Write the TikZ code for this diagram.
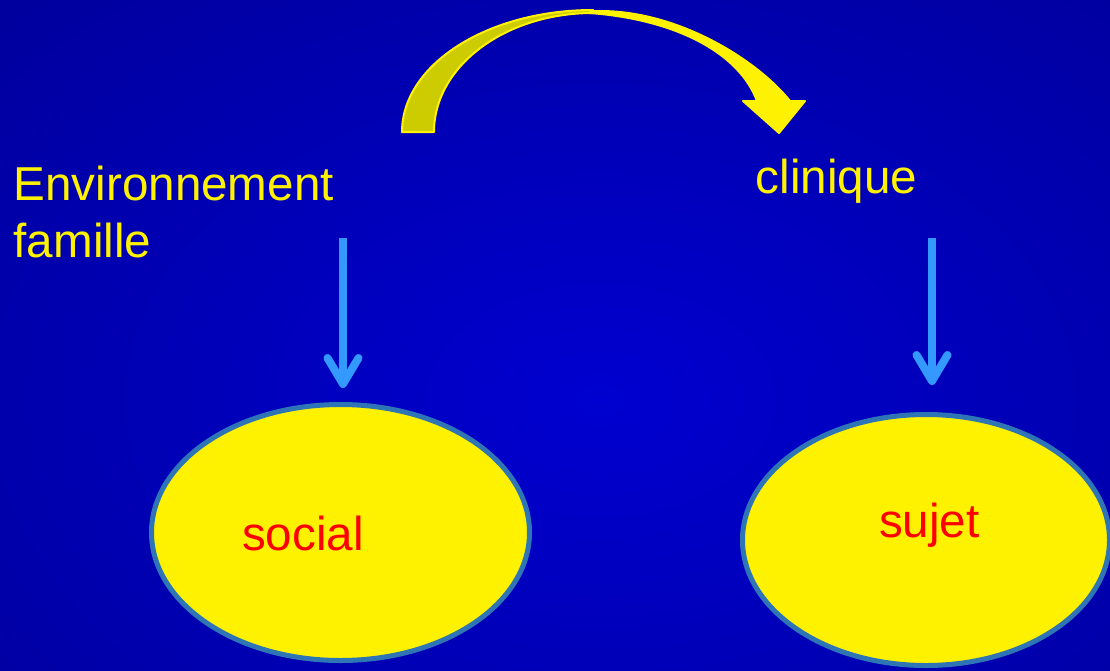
\documentclass[tikz,border=0pt]{standalone}
\usepackage{fontspec}
\setmainfont{Liberation Sans}
\usetikzlibrary{positioning,shapes.geometric,arrows.meta}
\definecolor{bgdark}{RGB}{0,0,118}
\definecolor{bglight}{RGB}{0,0,208}
\definecolor{rim}{RGB}{46,117,182}
\definecolor{shaft}{RGB}{51,153,255}
\definecolor{backyellow}{RGB}{204,204,0}
\tikzset{
  blob/.style={ellipse, fill=yellow, draw=rim, line width=5pt},
  word/.style={font=\fontsize{47.6}{57}\selectfont, inner sep=0pt, anchor=base west},
  connect/.style={-{Straight Barb[round, length=26pt, width=31pt]}, draw=shaft, line width=8pt},
  band/.style={draw=yellow, line width=2pt, line join=round}
}

\begin{document}
\begin{tikzpicture}[x=1pt, y=1pt]
		\useasboundingbox (0,0) rectangle (1110,-670);
		\begin{scope}
		  \clip (0,0) rectangle (1110,-670);
		  \shade[inner color=bglight, outer color=bgdark] (-900,600) rectangle (2100,-1400);
		\end{scope}
		% curved arrow on top
		\path[fill=backyellow, band] (402,-132) arc[start angle=180, end angle=90, x radius=191, y radius=122]
		  -- (593,-13) arc[start angle=90, end angle=180, x radius=159, y radius=119] -- cycle;
		\path[fill=yellow, band] (590,-11) -- (600,-11) .. controls (680,-11) and (758,-61) .. (790,-101)
		  -- (805,-101) -- (779,-133) -- (743,-101) -- (757,-101)
		  .. controls (740,-55) and (680,-20) .. (590,-13) -- cycle;
		% texts
		\node[word, text=yellow, align=left] (env) at (13.5,-257) {Environnement\\famille};
		\node[word, text=yellow] (clin) at (755.5,-193) {clinique};
		% ellipses and arrows
		\foreach \i/\x/\y/\w/\h/\s in {1/340.5/-532.5/378/256/14, 2/926/-540/367/251/27} {
		  \node[blob, minimum width=\w pt, minimum height=\h pt] (e_{\i}) at (\x,\y) {};
		  \coordinate (a_{\i}) at ({\x+2.5+(\i-1)*3.5},-238);
		  \draw[connect, shorten >=\s pt] (a_{\i}) -- (a_{\i} |- e_{\i}.north);
		}
		\node[word, text=red] (social) at (241.8,-550) {social};
		\node[word, text=red] (sujet) at (878.8,-537) {sujet};
	\end{tikzpicture}
\end{document}
